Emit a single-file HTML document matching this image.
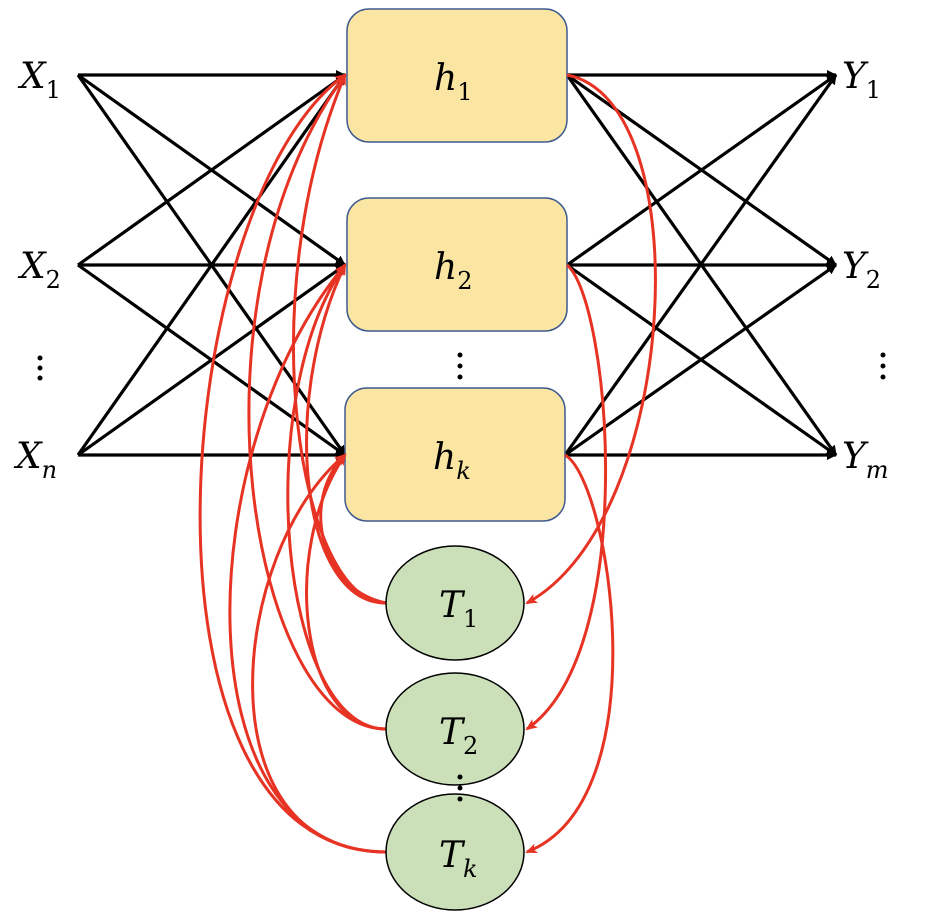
<!DOCTYPE html>
<html><head><meta charset="utf-8"><style>
html,body{margin:0;padding:0;background:#fff;}
svg{display:block;}
text{font-family:"DejaVu Serif","Liberation Serif",serif;font-style:italic;fill:#000;}
.s{font-style:normal;}
</style></head><body>
<svg width="930" height="914" viewBox="0 0 930 914" xmlns="http://www.w3.org/2000/svg">
<defs>
<marker id="ab" markerWidth="10" markerHeight="10" refX="9" refY="5" orient="auto" markerUnits="userSpaceOnUse"><path d="M0,0 L10,5 L0,10 Z" fill="#000"/></marker>
<marker id="ar" markerWidth="12" markerHeight="10" refX="10" refY="5" orient="auto" markerUnits="userSpaceOnUse"><path d="M0,0 L12,5 L0,10 L3,5 Z" fill="#e63323"/></marker>
</defs>
<g stroke="#000" stroke-width="3.2" fill="none" marker-end="url(#ab)">
<line x1="78" y1="75" x2="345" y2="75"/><line x1="78" y1="75" x2="345" y2="265"/><line x1="78" y1="75" x2="345" y2="455"/>
<line x1="78" y1="265" x2="345" y2="75"/><line x1="78" y1="265" x2="345" y2="265"/><line x1="78" y1="265" x2="345" y2="455"/>
<line x1="78" y1="455" x2="345" y2="75"/><line x1="78" y1="455" x2="345" y2="265"/><line x1="78" y1="455" x2="345" y2="455"/>
<line x1="567" y1="75" x2="836" y2="75"/><line x1="567" y1="75" x2="836" y2="265"/><line x1="567" y1="75" x2="836" y2="455"/>
<line x1="567" y1="265" x2="836" y2="75"/><line x1="567" y1="265" x2="836" y2="265"/><line x1="567" y1="265" x2="836" y2="455"/>
<line x1="565" y1="455" x2="836" y2="75"/><line x1="565" y1="455" x2="836" y2="265"/><line x1="565" y1="455" x2="836" y2="455"/>
</g>
<g fill="#fae5a3" stroke="#3f5a8f" stroke-width="1.5">
<rect x="347" y="9" width="220" height="133" rx="22"/>
<rect x="347" y="198" width="220" height="133" rx="22"/>
<rect x="345" y="388" width="220" height="133" rx="22"/>
</g>
<g stroke="#e63323" stroke-width="3" fill="none" marker-end="url(#ar)">
<path d="M386,603 C300,603 250,300 345,75"/>
<path d="M386,603 C300,603 280,400 345,265"/>
<path d="M386,603 C320,590 300,500 345,455"/>
<path d="M386,729 C250,729 180,300 345,75"/>
<path d="M386,729 C280,729 250,400 345,265"/>
<path d="M386,729 C300,729 280,550 345,455"/>
<path d="M386,852 C120,852 170,200 345,75"/>
<path d="M386,852 C180,852 190,450 345,265"/>
<path d="M386,852 C200,852 230,550 345,455"/>
<path d="M567,75 C700,100 680,520 527,603"/>
<path d="M567,265 C610,300 640,650 527,729"/>
<path d="M565,455 C610,480 660,800 527,852"/>
</g>
<g fill="#cbdfb8" stroke="#000" stroke-width="1.5">
<ellipse cx="455" cy="603" rx="69" ry="57"/>
<ellipse cx="455" cy="729" rx="69" ry="56"/>
<ellipse cx="455" cy="852" rx="69" ry="58"/>
</g>
<g font-size="36">
<text x="20" y="88">X<tspan class="s" font-size="24" dy="10">1</tspan></text>
<text x="20" y="278">X<tspan class="s" font-size="24" dy="10">2</tspan></text>
<text x="16" y="468">X<tspan font-size="24" dy="10">n</tspan></text>
<text x="842" y="88">Y<tspan class="s" font-size="24" dy="10">1</tspan></text>
<text x="842" y="278">Y<tspan class="s" font-size="24" dy="10">2</tspan></text>
<text x="842" y="468">Y<tspan font-size="24" dy="10">m</tspan></text>
<text x="434" y="90">h<tspan class="s" font-size="24" dy="10">1</tspan></text>
<text x="434" y="279">h<tspan class="s" font-size="24" dy="10">2</tspan></text>
<text x="433" y="469">h<tspan font-size="24" dy="10">k</tspan></text>
<text x="439" y="617">T<tspan class="s" font-size="24" dy="10">1</tspan></text>
<text x="439" y="744">T<tspan class="s" font-size="24" dy="10">2</tspan></text>
<text x="439" y="867">T<tspan font-size="24" dy="10">k</tspan></text>
</g>
<g fill="#000">
<circle cx="40" cy="358" r="2.5"/><circle cx="40" cy="368" r="2.5"/><circle cx="40" cy="378" r="2.5"/>
<circle cx="460" cy="355" r="2.5"/><circle cx="460" cy="366" r="2.5"/><circle cx="460" cy="377" r="2.5"/>
<circle cx="883" cy="355" r="2.5"/><circle cx="883" cy="366" r="2.5"/><circle cx="883" cy="377" r="2.5"/>
<circle cx="460" cy="777" r="2.5"/><circle cx="460" cy="788" r="2.5"/><circle cx="460" cy="799" r="2.5"/>
</g>
</svg>
</body></html>
